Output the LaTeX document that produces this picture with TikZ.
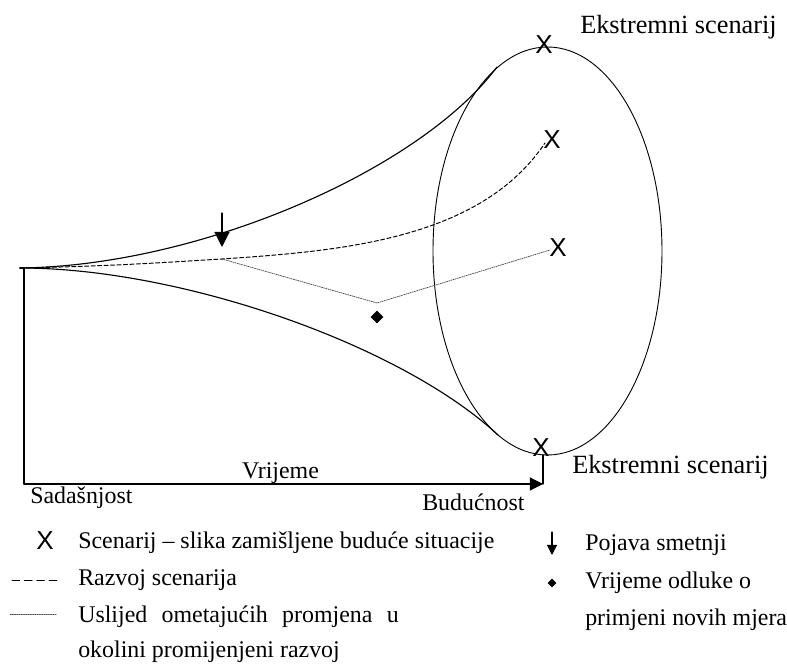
\documentclass[tikz,border=0pt]{standalone}
\usepackage{fontspec}
\setmainfont{Liberation Serif}
\setsansfont{Liberation Sans}
\usepackage{tikz}
\usetikzlibrary{arrows.meta,shapes.geometric}
\tikzset{
	lbl/.style={font=\fontsize{17}{20}\selectfont,inner sep=0pt},
	extlbl/.style={font=\fontsize{18.7}{22}\selectfont,inner sep=0pt,anchor=west},
	xmark/.style={font=\sffamily\fontsize{18.5}{20}\selectfont,inner sep=0pt},
	dashline/.style={line width=0.7pt,dash pattern=on 2.9pt off 1.7pt},
	dotline/.style={line width=0.55pt,color=black!70,dash pattern=on 0.8pt off 0.8pt},
	dec/.style={diamond,fill=black,inner sep=0pt,minimum size=#1}
}

\begin{document}
\begin{tikzpicture}[line cap=round,line join=round,x=1.0cm,y=1.0cm,
	>={Triangle[length=0.33cm,width=0.33cm]}]
		\clip(0,0) rectangle (19.675,16.8);
		% points of the funnel
		\coordinate (O) at (0.5,10.1);
		\coordinate (C) at (0.6,10.1);
		\coordinate (K) at (0.6,4.7);
		\coordinate (F) at (13.575,4.7);
		\coordinate (G) at (13.575,5.425);
		\coordinate (U) at (12.425,15.125);
		\coordinate (L) at (12.45,5.925);
		\coordinate (B) at (5.55,10.325);
		\coordinate (D) at (9.425,9.225);
		\coordinate (S2) at (13.625,13.225);
		\coordinate (S3) at (13.75,10.55);
		\coordinate (P1) at (5.55,11.475);
		\coordinate (P2) at (5.55,10.625);
		\draw [line width=0.65pt] (13.6875,10.525) ellipse (2.8625cm and 5.1cm);
		\draw [line width=0.8pt] (O) .. controls (5,10.15) and (10.5,12.55) .. (U);
		\draw [line width=0.8pt] (O) .. controls (4.5,10.1) and (10,8.2) .. (L);
		\draw [dashline] (O) .. controls (3,10.15) and (4.25,10.25) .. (B) .. controls (8.5,10.525) and (12,10.8) .. (S2);
		\draw [dotline] (B)-- (D)-- (S3);
		\draw [line width=0.8pt] (O)-- (C)-- (K);
		\draw [line width=0.8pt,->] (K)-- (F);
		\draw [line width=0.8pt] (F)-- (G);
		\draw [line width=0.8pt,-{Triangle[length=0.375cm,width=0.375cm]}] (P1)-- (P2);
		\node [dec=0.32cm] (d1) at (9.425,8.875) {};
		% scenarios
		\node [xmark] (x1) at (13.6,15.675) {X};
		\node [xmark] (x2) at (13.8,13.3) {X};
		\node [xmark] (x3) at (13.95,10.6) {X};
		\node [xmark] (x4) at (13.525,5.6) {X};
		\node [extlbl] (e1) at (14.5,16.125) {Ekstremni scenarij};
		\node [extlbl] (e2) at (14.3,5.125) {Ekstremni scenarij};
		\node [lbl] (t1) at (7.0125,4.975) {Vrijeme};
		\node [lbl,anchor=west] (t2) at (0.75,4.35) {Sadašnjost};
		\node [lbl,anchor=west] (t3) at (10.55,4.25) {Budućnost};
		% legend
		\node [xmark] (lx) at (1.125,3.275) {X};
		\node [lbl,anchor=west] (l1) at (1.95,3.225) {Scenarij – slika zamišljene buduće situacije};
		\coordinate (a1) at (0.3,2.3);
		\coordinate (a2) at (1.45,2.3);
		\draw [line width=0.7pt,dash pattern=on 5.5pt off 3.3pt] (a1)-- (a2);
		\node [lbl,anchor=west] (l2) at (1.95,2.3) {Razvoj scenarija};
		\coordinate (b1) at (0.25,1.45);
		\coordinate (b2) at (1.425,1.45);
		\draw [dotline] (b1)-- (b2);
		\node [lbl,anchor=west] (l3) at (1.95,1.375) {Uslijed\hspace{0.6em}ometajućih\hspace{0.6em}promjena\hspace{0.6em}u};
		\node [lbl,anchor=west] (l4) at (1.95,0.5) {okolini promijenjeni razvoj};
		\coordinate (c1) at (13.8,3.5);
		\coordinate (c2) at (13.8,2.925);
		\draw [line width=0.8pt,-{Triangle[length=0.25cm,width=0.25cm]}] (c1)-- (c2);
		\node [lbl,anchor=west] (r1) at (14.625,3.175) {Pojava smetnji};
		\node [dec=0.23cm] (d2) at (13.8,2.225) {};
		\node [lbl,anchor=west] (r2) at (14.625,2.225) {Vrijeme odluke o};
		\node [lbl,anchor=west] (r3) at (14.625,1.3) {primjeni novih mjera};
	\end{tikzpicture}
\end{document}
